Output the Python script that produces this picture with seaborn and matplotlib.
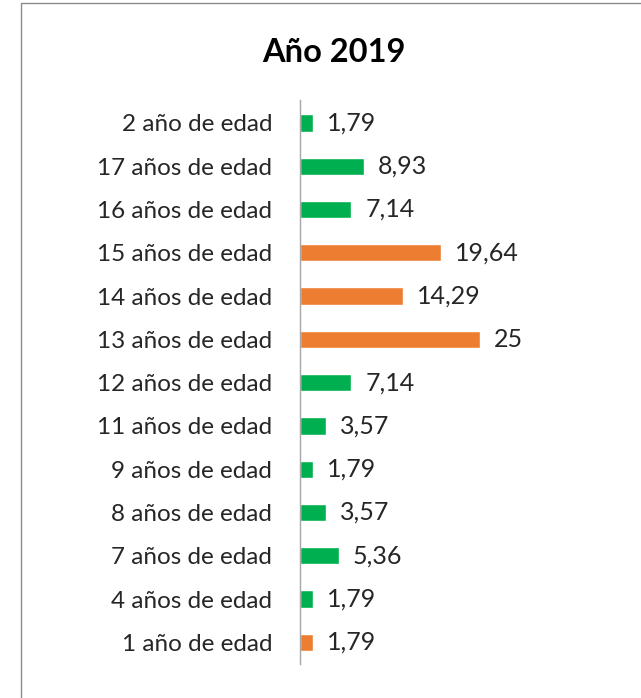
import matplotlib
matplotlib.use("Agg")
import matplotlib.pyplot as plt
import seaborn as sns
import pandas as pd
from matplotlib.patches import Rectangle

categories = ["2 año de edad", "17 años de edad", "16 años de edad", "15 años de edad",
              "14 años de edad", "13 años de edad", "12 años de edad", "11 años de edad",
              "9 años de edad", "8 años de edad", "7 años de edad", "4 años de edad",
              "1 año de edad"]
values = [1.79, 8.93, 7.14, 19.64, 14.29, 25, 7.14, 3.57, 1.79, 3.57, 5.36, 1.79, 1.79]
groups = ["g", "g", "g", "o", "o", "o", "g", "g", "g", "g", "g", "g", "o"]
palette = {"g": "#00B050", "o": "#ED7D31"}

sns.set_theme(style="white")
plt.rcParams['font.family'] = ['Lato', 'DejaVu Sans']

df = pd.DataFrame({"cat": categories, "val": values, "grp": groups})

fig = plt.figure(figsize=(6.41, 6.98), dpi=100)
ax = fig.add_axes([300/641, 1-664/698, 1-300/641, (664-100)/698])
sns.barplot(data=df, x="val", y="cat", hue="grp", palette=palette, dodge=False,
            legend=False, width=0.4, saturation=1, ax=ax, order=categories)

def fmt(v):
    s = ("%g" % v)
    return s.replace(".", ",")

for cont in ax.containers:
    labs = [fmt(b.get_width()) if b.get_width() > 0 else "" for b in cont]
    ax.bar_label(cont, labels=labs, padding=10, fontsize=18, color="#262626")

ax.set_xlim(0, (641-300)/7.2)
ax.set_ylim(12.5, -0.53)
ax.set_xlabel("")
ax.set_ylabel("")
ax.set_xticks([])
for s in ["top", "right", "bottom"]:
    ax.spines[s].set_visible(False)
ax.spines["left"].set_color("#A6A6A6")
ax.spines["left"].set_linewidth(1.0)
ax.tick_params(axis="y", length=0, pad=20, labelsize=17.5, labelcolor="#262626")

fig.text(334/641, 1-52/698, "Año 2019", ha="center", va="center",
         fontsize=23.5, fontweight="bold", color="#000000")

fig.patches.append(Rectangle((21/641, -0.1), 1.2, 1-3/698+0.1, transform=fig.transFigure,
                             fill=False, edgecolor="#8C8C8C", linewidth=1.0))

fig.savefig("out.png", dpi=100)
